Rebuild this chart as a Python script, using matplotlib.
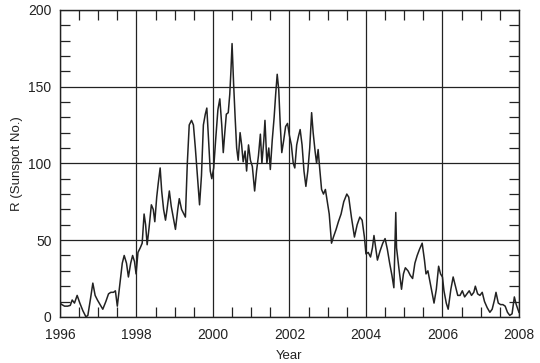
import matplotlib
matplotlib.use("Agg")
import matplotlib.pyplot as plt
from matplotlib.ticker import MultipleLocator

plt.rcParams['font.family'] = ['Liberation Sans', 'DejaVu Sans']

# Sunspot number R, 1996-2008 (solar rotation averages)
years = [
    1996.00, 1996.05, 1996.12, 1996.20, 1996.27, 1996.32, 1996.38, 1996.45, 1996.52, 1996.60,
    1996.68, 1996.73, 1996.80, 1996.86, 1996.92, 1996.98, 1997.05, 1997.12, 1997.20, 1997.27,
    1997.33, 1997.40, 1997.45, 1997.50, 1997.57, 1997.63, 1997.68, 1997.74, 1997.79, 1997.85,
    1997.90, 1997.95, 1997.99, 1998.04, 1998.10, 1998.15, 1998.20, 1998.24, 1998.28, 1998.33,
    1998.39, 1998.44, 1998.48, 1998.53, 1998.57, 1998.62, 1998.66, 1998.71, 1998.76, 1998.80,
    1998.86, 1998.91, 1998.96, 1999.02, 1999.08, 1999.12, 1999.18, 1999.24, 1999.28, 1999.33,
    1999.38, 1999.44, 1999.49, 1999.54, 1999.60, 1999.65, 1999.70, 1999.75, 1999.80, 1999.84,
    1999.88, 1999.93, 1999.97, 2000.02, 2000.07, 2000.13, 2000.18, 2000.23, 2000.27, 2000.31,
    2000.35, 2000.40, 2000.44, 2000.47, 2000.50, 2000.54, 2000.58, 2000.62, 2000.66, 2000.71,
    2000.75, 2000.79, 2000.84, 2000.88, 2000.93, 2000.98, 2001.03, 2001.09, 2001.14, 2001.19,
    2001.24, 2001.28, 2001.33, 2001.36, 2001.41, 2001.46, 2001.50, 2001.55, 2001.60, 2001.64,
    2001.68, 2001.72, 2001.76, 2001.80, 2001.85, 2001.90, 2001.95, 2002.00, 2002.05, 2002.10,
    2002.14, 2002.19, 2002.24, 2002.28, 2002.33, 2002.38, 2002.43, 2002.48, 2002.53, 2002.58,
    2002.62, 2002.67, 2002.71, 2002.75, 2002.79, 2002.84, 2002.89, 2002.94, 2002.99, 2003.04,
    2003.10, 2003.15, 2003.22, 2003.28, 2003.35, 2003.42, 2003.50, 2003.55, 2003.62, 2003.70,
    2003.77, 2003.84, 2003.90, 2003.96, 2004.00, 2004.06, 2004.12, 2004.17, 2004.21, 2004.26,
    2004.30, 2004.37, 2004.44, 2004.50, 2004.56, 2004.62, 2004.68, 2004.73, 2004.78, 2004.80,
    2004.86, 2004.93, 2004.98, 2005.03, 2005.10, 2005.16, 2005.22, 2005.28, 2005.34, 2005.40,
    2005.47, 2005.53, 2005.57, 2005.62, 2005.68, 2005.73, 2005.78, 2005.84, 2005.90, 2005.95,
    2006.00, 2006.04, 2006.10, 2006.15, 2006.22, 2006.28, 2006.34, 2006.40, 2006.46, 2006.52,
    2006.58, 2006.64, 2006.70, 2006.76, 2006.82, 2006.86, 2006.92, 2006.98, 2007.04, 2007.10,
    2007.17, 2007.24, 2007.30, 2007.36, 2007.40, 2007.46, 2007.52, 2007.58, 2007.64, 2007.70,
    2007.76, 2007.82, 2007.88, 2007.93, 2008.00,
]
sunspots = [
    9, 8, 7, 7, 7.5, 11, 9, 14, 9, 4,
    0, 1, 12, 22, 14, 11, 8, 5, 10, 15,
    16, 16, 17, 7, 22, 35, 40, 35, 26, 35,
    40, 36, 28, 42, 45, 48, 67, 60, 47, 58,
    73, 70, 62, 78, 87, 97, 82, 70, 63, 70,
    82, 72, 65, 57, 70, 77, 70, 67, 65, 100,
    125, 128, 125, 110, 90, 73, 92, 125, 132, 136,
    118, 95, 90, 97, 115, 135, 142, 125, 107, 120,
    132, 133, 145, 160, 178, 152, 130, 110, 102, 120,
    112, 101, 108, 95, 112, 102, 98, 82, 95, 105,
    119, 100, 115, 128, 100, 110, 96, 115, 130, 145,
    158, 148, 125, 107, 115, 124, 126, 118, 112, 100,
    97, 112, 118, 122, 112, 95, 85, 95, 110, 133,
    120, 108, 100, 109, 97, 83, 80, 83, 75, 67,
    48, 52, 57, 62, 67, 75, 80, 78, 65, 52,
    60, 65, 63, 52, 41, 42, 39, 45, 53, 44,
    37, 43, 48, 51, 44, 35, 27, 19, 68, 45,
    32, 18, 28, 32, 30, 27, 25, 35, 40, 44,
    48, 37, 28, 30, 22, 15, 9, 18, 33, 28,
    26, 17, 9, 5, 18, 26, 20, 14, 14, 17,
    13, 15, 17, 14, 16, 20, 15, 14, 16, 10,
    6, 3, 5, 11, 16, 9, 8, 8, 7, 3,
    1, 2, 13, 8, 3,
]

x_ticks = [1996, 1998, 2000, 2002, 2004, 2006, 2008]
y_ticks = [0, 50, 100, 150, 200]

ink = "#222222"

fig = plt.figure(figsize=(5.4, 3.63), dpi=100)
ax = fig.add_axes([0.111, 0.127, 0.850, 0.846])

ax.plot(years, sunspots, color=ink, linewidth=1.1, zorder=3)

ax.set_xlim(1996, 2008)
ax.set_ylim(0, 200)
ax.set_xticks(x_ticks)
ax.set_yticks(y_ticks)
ax.xaxis.set_minor_locator(MultipleLocator(0.5))
ax.yaxis.set_minor_locator(MultipleLocator(10))

ax.grid(True, which="major", color=ink, linewidth=0.9)
ax.tick_params(which="both", direction="in", top=True, right=True,
               colors=ink, labelsize=10, width=0.9)
ax.tick_params(which="minor", length=7)
ax.tick_params(axis="x", which="major", length=0, pad=8)
ax.tick_params(axis="y", which="major", length=0, pad=6)
for side in ax.spines.values():
    side.set_color(ink)
    side.set_linewidth(1.0)

ax.set_xlabel("Year", fontsize=9.5, color=ink, labelpad=6)
ax.set_ylabel("R (Sunspot No.)", fontsize=9.5, color=ink, labelpad=4)

fig.savefig("out.png", dpi=100, facecolor="white")
